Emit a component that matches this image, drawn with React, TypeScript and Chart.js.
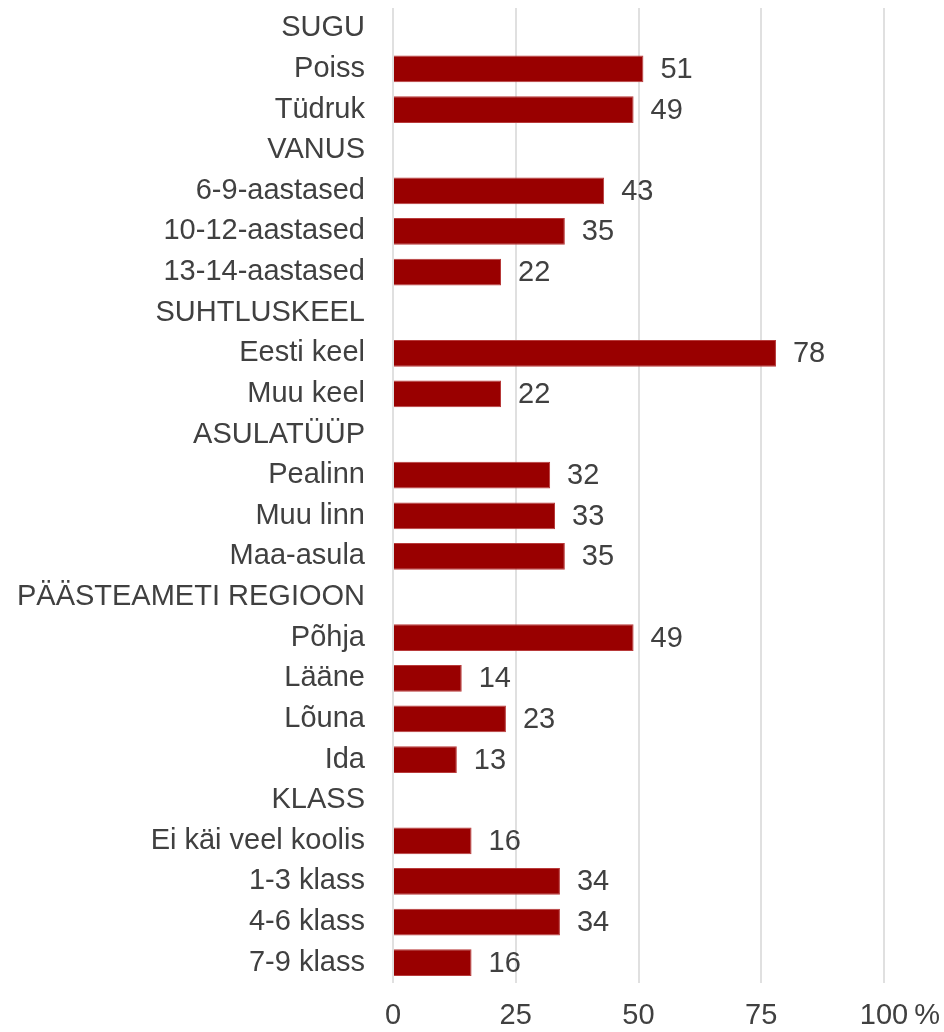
import React, { useEffect, useRef } from "react";
import { Chart, registerables } from "chart.js";

Chart.register(...registerables);

const categories: string[] = [
  "SUGU", "Poiss", "Tüdruk",
  "VANUS", "6-9-aastased", "10-12-aastased", "13-14-aastased",
  "SUHTLUSKEEL", "Eesti keel", "Muu keel",
  "ASULATÜÜP", "Pealinn", "Muu linn", "Maa-asula",
  "PÄÄSTEAMETI REGIOON", "Põhja", "Lääne", "Lõuna", "Ida",
  "KLASS", "Ei käi veel koolis", "1-3 klass", "4-6 klass", "7-9 klass",
];

const values: (number | null)[] = [
  null, 51, 49,
  null, 43, 35, 22,
  null, 78, 22,
  null, 32, 33, 35,
  null, 49, 14, 23, 13,
  null, 16, 34, 34, 16,
];

const xTicks: number[] = [0, 25, 50, 75, 100];
const lastTickSuffix = "%";

const FONT = '"Liberation Sans", Arial, sans-serif';
const TEXT = "#404040";
const BAR = "#990000";

const valueLabels = {
  id: "valueLabels",
  afterDatasetsDraw(chart: any) {
    const ctx = chart.ctx;
    const meta = chart.getDatasetMeta(0);
    ctx.save();
    ctx.font = `29px ${FONT}`;
    ctx.fillStyle = TEXT;
    ctx.textAlign = "left";
    ctx.textBaseline = "middle";
    meta.data.forEach((el: any, i: number) => {
      const v = values[i];
      if (v === null || v === undefined) return;
      ctx.fillText(String(v), el.x + 17, el.y + 1);
    });
    ctx.restore();
  },
};

const percentSuffix = {
  id: "percentSuffix",
  afterDraw(chart: any) {
    const xs = chart.scales.x;
    const ctx = chart.ctx;
    const last = xTicks[xTicks.length - 1];
    const px = xs.getPixelForValue(last);
    ctx.save();
    ctx.font = `29px ${FONT}`;
    const w = ctx.measureText(String(last)).width;
    ctx.fillStyle = TEXT;
    ctx.textAlign = "left";
    ctx.textBaseline = "middle";
    ctx.fillText(lastTickSuffix, px + w / 2 + 6, xs.top + 16 + 17.4);
    ctx.restore();
  },
};

export default function App() {
  const ref = useRef<HTMLCanvasElement | null>(null);
  useEffect(() => {
    if (!ref.current) return;
    const chart = new Chart(ref.current, {
      type: "bar",
      data: {
        labels: categories,
        datasets: [
          {
            data: values as any,
            backgroundColor: BAR,
            borderColor: "#b83a3a",
            borderWidth: 1,
            barPercentage: 0.66,
            categoryPercentage: 1,
          },
        ],
      },
      options: {
        indexAxis: "y",
        responsive: false,
        animation: false,
        layout: { padding: { top: 8, right: 60, bottom: 0, left: 0 } },
        plugins: {
          legend: { display: false },
          tooltip: { enabled: false },
        },
        scales: {
          x: {
            min: 0,
            max: 100,
            afterBuildTicks: (scale: any) => {
              scale.ticks = xTicks.map((v) => ({ value: v }));
            },
            afterFit: (scale: any) => {
              scale.height = 49;
              scale.paddingLeft = 0;
              scale.paddingRight = 0;
            },
            ticks: {
              font: { family: FONT, size: 29 },
              color: TEXT,
              padding: 16,
              maxRotation: 0,
              callback: (v: any) => String(v),
            },
            grid: {
              color: "#e0e0e0",
              lineWidth: 2,
              drawTicks: false,
            },
            border: { display: false },
          },
          y: {
            afterFit: (scale: any) => {
              scale.width = 393;
              scale.paddingTop = 0;
              scale.paddingBottom = 0;
            },
            ticks: {
              font: { family: FONT, size: 29 },
              color: TEXT,
              padding: 28,
              autoSkip: false,
            },
            grid: { display: false, drawTicks: false },
            border: { display: false },
          },
        },
      },
      plugins: [valueLabels, percentSuffix],
    });
    return () => chart.destroy();
  }, []);
  return (
    <div style={{ position: "absolute", left: 0, top: 0, width: 944, height: 1032, background: "#fff" }}>
      <canvas ref={ref} width={944} height={1032} />
    </div>
  );
}
